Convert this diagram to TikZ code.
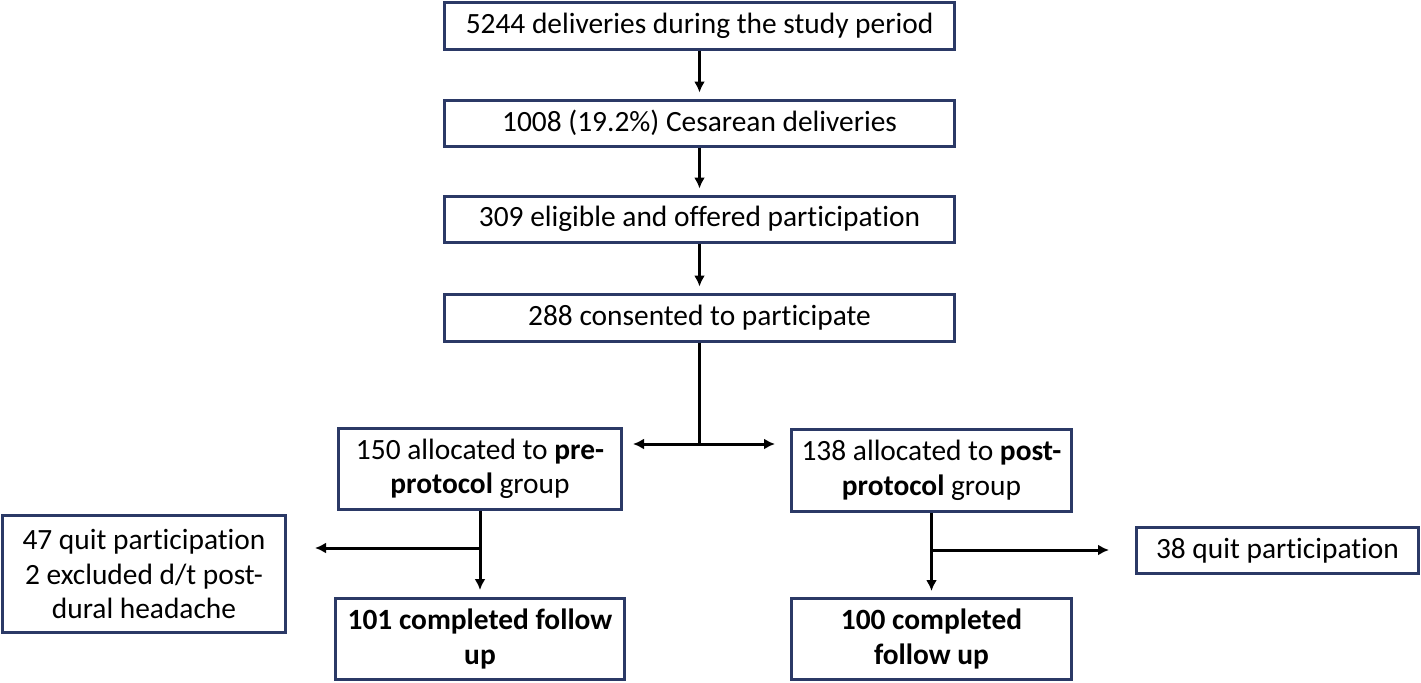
\documentclass[tikz,border=0pt]{standalone}
\usepackage{fontspec}
\setmainfont{Carlito}[Ligatures=NoCommon]
\usepackage{tikz}
\usepackage{xcolor}
\usetikzlibrary{arrows,arrows.meta,calc,positioning,shapes}

\definecolor{boxblue}{HTML}{2B3966}

\begin{document}
\begin{tikzpicture}[x=0.5pt,y=-0.5pt,>={Latex[length=5.5pt,width=5.5pt]},font=\fontsize{14.7}{17.25}\selectfont,every node/.style={draw=boxblue,line width=1.5pt,rectangle,inner sep=0pt},every path/.style={line width=1.5pt},every text node part/.style={align=center}]
	\useasboundingbox (0,0) rectangle (1421,682);

	\node (deliv) at (699.5,25.5) [minimum width=255pt,minimum height=23.5pt] {5244 deliveries during the study period};
	\node (cesar) at (699.5,123) [minimum width=255pt,minimum height=23pt] {1008 (19.2\%) Cesarean deliveries};
	\node (elig) at (699.5,219) [minimum width=255pt,minimum height=23pt] {309 eligible and offered participation};
	\node (consent) at (699.5,317.5) [minimum width=255pt,minimum height=23.5pt] {288 consented to participate};

	\node (pre) at (480,469) [minimum width=141.5pt,minimum height=40.5pt] {150 allocated to \textbf{pre-}\\\textbf{protocol} group};
	\node (post) at (931.5,470.5) [minimum width=140pt,minimum height=41pt] {138 allocated to \textbf{post-}\\\textbf{protocol} group};

	\node (prequit) at (144,574) [minimum width=141.5pt,minimum height=58.5pt] {47 quit participation\\2 excluded d/t post-\\dural headache};
	\node (predone) at (480,639) [minimum width=144.5pt,minimum height=40.5pt] {\textbf{101 completed follow}\\\textbf{up}};
	\node (postquit) at (1277.5,550.5) [minimum width=141pt,minimum height=23pt] {38 quit participation};
	\node (postdone) at (931.5,639) [minimum width=140pt,minimum height=40.5pt] {\textbf{100 completed}\\\textbf{follow up}};

	\coordinate (split) at (699.5,444);
	\coordinate (lsplit) at (480,548);
	\coordinate (rsplit) at (931.5,550);

	\draw[->,shorten >=3pt] (deliv) -- (cesar);
	\draw[->,shorten >=3pt] (cesar) -- (elig);
	\draw[->,shorten >=3pt] (elig) -- (consent);

	\draw (consent) -- (split);
	\draw[<->,shorten <=5pt,shorten >=7.5pt] (pre.east |- split) -- (post.west |- split);

	\draw[->,shorten >=3.5pt] (pre) -- (predone);
	\draw[->,shorten >=14pt] (lsplit) -- (prequit.east |- lsplit);
	\draw[->,shorten >=3pt] (post) -- (postdone);
	\draw[->,shorten >=13pt] (rsplit) -- (postquit.west |- rsplit);
\end{tikzpicture}
\end{document}
